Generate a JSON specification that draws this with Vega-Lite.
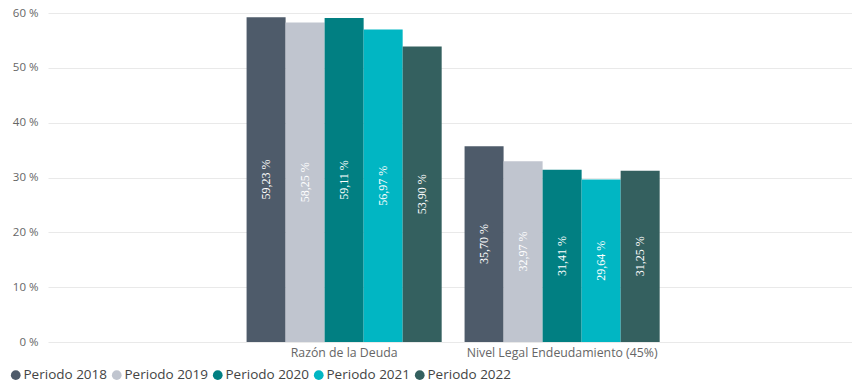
{
  "$schema": "https://vega.github.io/schema/vega-lite/v6.json",
  "width": 804,
  "height": 329,
  "autosize": {"type": "none"},
  "padding": {"left": 48, "top": 13, "right": 0, "bottom": 41},
  "background": "white",
  "config": {"view": {"stroke": null}, "font": "Open Sans"},
  "data": {
    "values": [
      {"categoria": "Razón de la Deuda", "periodo": "Periodo 2018", "valor": 59.23},
      {"categoria": "Razón de la Deuda", "periodo": "Periodo 2019", "valor": 58.25},
      {"categoria": "Razón de la Deuda", "periodo": "Periodo 2020", "valor": 59.11},
      {"categoria": "Razón de la Deuda", "periodo": "Periodo 2021", "valor": 56.97},
      {"categoria": "Razón de la Deuda", "periodo": "Periodo 2022", "valor": 53.90},
      {"categoria": "Nivel Legal Endeudamiento (45%)", "periodo": "Periodo 2018", "valor": 35.70},
      {"categoria": "Nivel Legal Endeudamiento (45%)", "periodo": "Periodo 2019", "valor": 32.97},
      {"categoria": "Nivel Legal Endeudamiento (45%)", "periodo": "Periodo 2020", "valor": 31.41},
      {"categoria": "Nivel Legal Endeudamiento (45%)", "periodo": "Periodo 2021", "valor": 29.64},
      {"categoria": "Nivel Legal Endeudamiento (45%)", "periodo": "Periodo 2022", "valor": 31.25}
    ]
  },
  "transform": [
    {"calculate": "replace(format(datum.valor, '.2f'), '.', ',') + ' %'", "as": "etiqueta"},
    {"calculate": "datum.valor / 2", "as": "mitad"}
  ],
  "encoding": {
    "x": {
      "field": "categoria",
      "type": "nominal",
      "sort": ["Razón de la Deuda", "Nivel Legal Endeudamiento (45%)"],
      "scale": {"paddingInner": 0.105, "paddingOuter": 0.8966, "align": 0.508},
      "axis": {
        "title": null,
        "labelAngle": 0,
        "domain": false,
        "ticks": false,
        "labelPadding": 4,
        "labelLimit": 400,
        "labelFont": "Open Sans",
        "labelFontSize": 12.3,
        "labelColor": "#666666"
      }
    },
    "xOffset": {
      "field": "periodo",
      "type": "nominal",
      "sort": ["Periodo 2018", "Periodo 2019", "Periodo 2020", "Periodo 2021", "Periodo 2022"],
      "scale": {"paddingInner": 0, "paddingOuter": 0}
    }
  },
  "layer": [
    {
      "mark": {"type": "bar"},
      "encoding": {
        "y": {
          "field": "valor",
          "type": "quantitative",
          "scale": {"domain": [0, 60], "nice": false},
          "axis": {
            "title": null,
            "values": [0, 10, 20, 30, 40, 50, 60],
            "labelExpr": "datum.value + ' %'",
            "domain": false,
            "ticks": false,
            "labelPadding": 10,
            "gridColor": "#E9E9E9",
            "labelColor": "#666666",
            "labelFont": "Open Sans",
            "labelFontSize": 11.5
          }
        },
        "color": {
          "field": "periodo",
          "type": "nominal",
          "scale": {
            "domain": ["Periodo 2018", "Periodo 2019", "Periodo 2020", "Periodo 2021", "Periodo 2022"],
            "range": ["#4E5B6A", "#C0C5CF", "#017F82", "#01B6C3", "#34605F"]
          },
          "legend": {
            "title": null,
            "orient": "none",
            "legendX": -39,
            "legendY": 355,
            "direction": "horizontal",
            "symbolType": "circle",
            "symbolSize": 95,
            "symbolStrokeWidth": 0,
            "labelFont": "Open Sans",
            "labelFontSize": 13.5,
            "labelColor": "#444444",
            "labelOffset": 1,
            "columnPadding": 2
          }
        }
      }
    },
    {
      "mark": {
        "type": "text",
        "angle": 270,
        "align": "center",
        "baseline": "middle",
        "font": "Liberation Sans Narrow",
        "fontSize": 12,
        "color": "white"
      },
      "encoding": {
        "y": {"field": "mitad", "type": "quantitative"},
        "text": {"field": "etiqueta", "type": "nominal"}
      }
    }
  ]
}
